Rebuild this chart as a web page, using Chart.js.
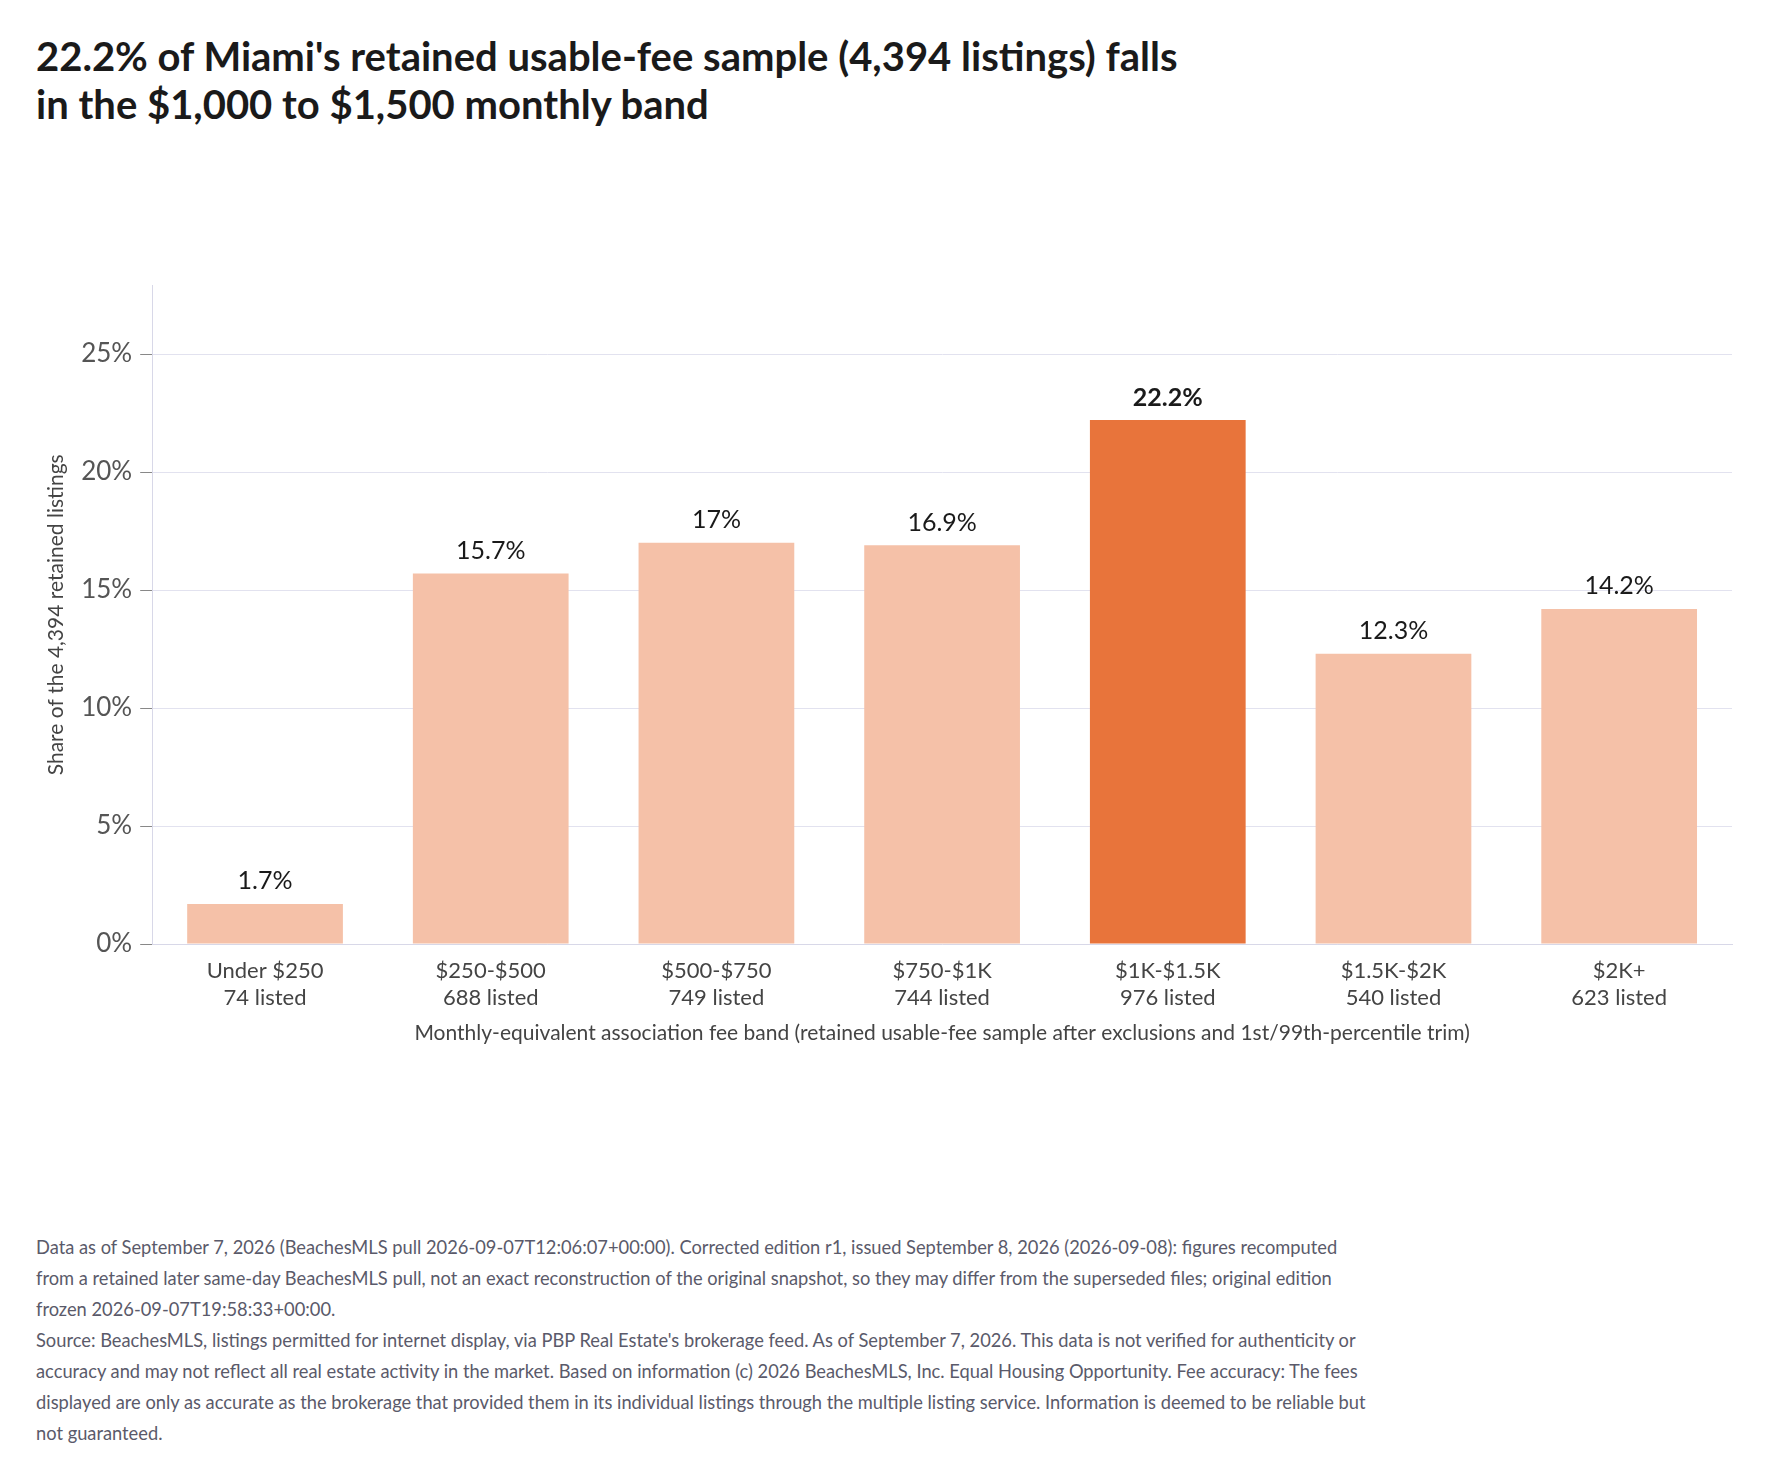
<!DOCTYPE html>
<html>
<head>
<meta charset="utf-8">
<script src="https://cdn.jsdelivr.net/npm/chart.js@4"></script>
<style>
  body { margin: 0; background: #fff; font-family: Lato, "Noto Sans", sans-serif; }
  #title { position: absolute; left: 36px; top: 32px; font-size: 40px; font-weight: 700; color: #1a1a1a; line-height: 48px; }
  #wrap { position: absolute; left: 40px; top: 262px; width: 1712px; height: 788px; }
  #note { position: absolute; left: 36px; top: 1232px; width: 1340px; font-size: 18.3px; line-height: 31px; color: #5a5a6a; }
</style>
</head>
<body>
<div id="title">22.2% of Miami's retained usable-fee sample (4,394 listings) falls<br>in the $1,000 to $1,500 monthly band</div>
<div id="wrap"><canvas id="myChart"></canvas></div>
<div id="note">Data as of September 7, 2026 (BeachesMLS pull 2026-09-07T12:06:07+00:00). Corrected edition r1, issued September 8, 2026 (2026-09-08): figures recomputed from a retained later same-day BeachesMLS pull, not an exact reconstruction of the original snapshot, so they may differ from the superseded files; original edition frozen 2026-09-07T19:58:33+00:00.<br>Source: BeachesMLS, listings permitted for internet display, via PBP Real Estate's brokerage feed. As of September 7, 2026. This data is not verified for authenticity or accuracy and may not reflect all real estate activity in the market. Based on information (c) 2026 BeachesMLS, Inc. Equal Housing Opportunity. Fee accuracy: The fees displayed are only as accurate as the brokerage that provided them in its individual listings through the multiple listing service. Information is deemed to be reliable but not guaranteed.</div>
<script>
// fee bands and their shares
const bands = ['Under $250', '$250-$500', '$500-$750', '$750-$1K', '$1K-$1.5K', '$1.5K-$2K', '$2K+'];
const listed = [74, 688, 749, 744, 976, 540, 623];
const shares = [1.7, 15.7, 17, 16.9, 22.2, 12.3, 14.2];
const yTicks = [0, 5, 10, 15, 20, 25];
const highlight = 4;

const barColors = shares.map((v, i) => i === highlight ? '#e8743b' : '#f5c1a8');

// draws the value over each bar
const valueLabels = {
  id: 'valueLabels',
  afterDatasetsDraw(chart) {
    const ctx = chart.ctx;
    const meta = chart.getDatasetMeta(0);
    ctx.save();
    ctx.textAlign = 'center';
    ctx.textBaseline = 'bottom';
    meta.data.forEach((bar, i) => {
      ctx.fillStyle = '#1a1a1a';
      ctx.font = (i === highlight ? '700 ' : '400 ') + '25px Lato, sans-serif';
      ctx.fillText(shares[i] + '%', bar.x, bar.y - 10);
    });
    ctx.restore();
  }
};

new Chart(document.getElementById('myChart'), {
  type: 'bar',
  data: {
    labels: bands.map((b, i) => [b, listed[i] + ' listed']),
    datasets: [{ data: shares, backgroundColor: barColors, categoryPercentage: 0.69, barPercentage: 1 }]
  },
  options: {
    responsive: true,
    maintainAspectRatio: false,
    animation: false,
    layout: { padding: { right: 20 } },
    plugins: { legend: { display: false }, tooltip: { enabled: false } },
    scales: {
      y: {
        min: 0, max: 27.9,
        afterBuildTicks: axis => { axis.ticks = yTicks.map(v => ({ value: v })); },
        ticks: { callback: v => v + '%', color: '#555', font: { family: 'Lato', size: 26 }, padding: 8 },
        grid: { color: '#e2e2ef', tickLength: 12, tickColor: '#888' },
        border: { color: '#d8d8e8' },
        title: { display: true, text: 'Share of the 4,394 retained listings', color: '#444', font: { family: 'Lato', size: 21 } }
      },
      x: {
        ticks: { color: '#444', font: { family: 'Lato', size: 22 }, padding: 6 },
        grid: { display: false, tickLength: 8 },
        border: { color: '#d8d8e8' },
        title: { display: true, text: 'Monthly-equivalent association fee band (retained usable-fee sample after exclusions and 1st/99th-percentile trim)', color: '#444', font: { family: 'Lato', size: 21 } }
      }
    }
  },
  plugins: [valueLabels]
});
</script>
</body>
</html>
